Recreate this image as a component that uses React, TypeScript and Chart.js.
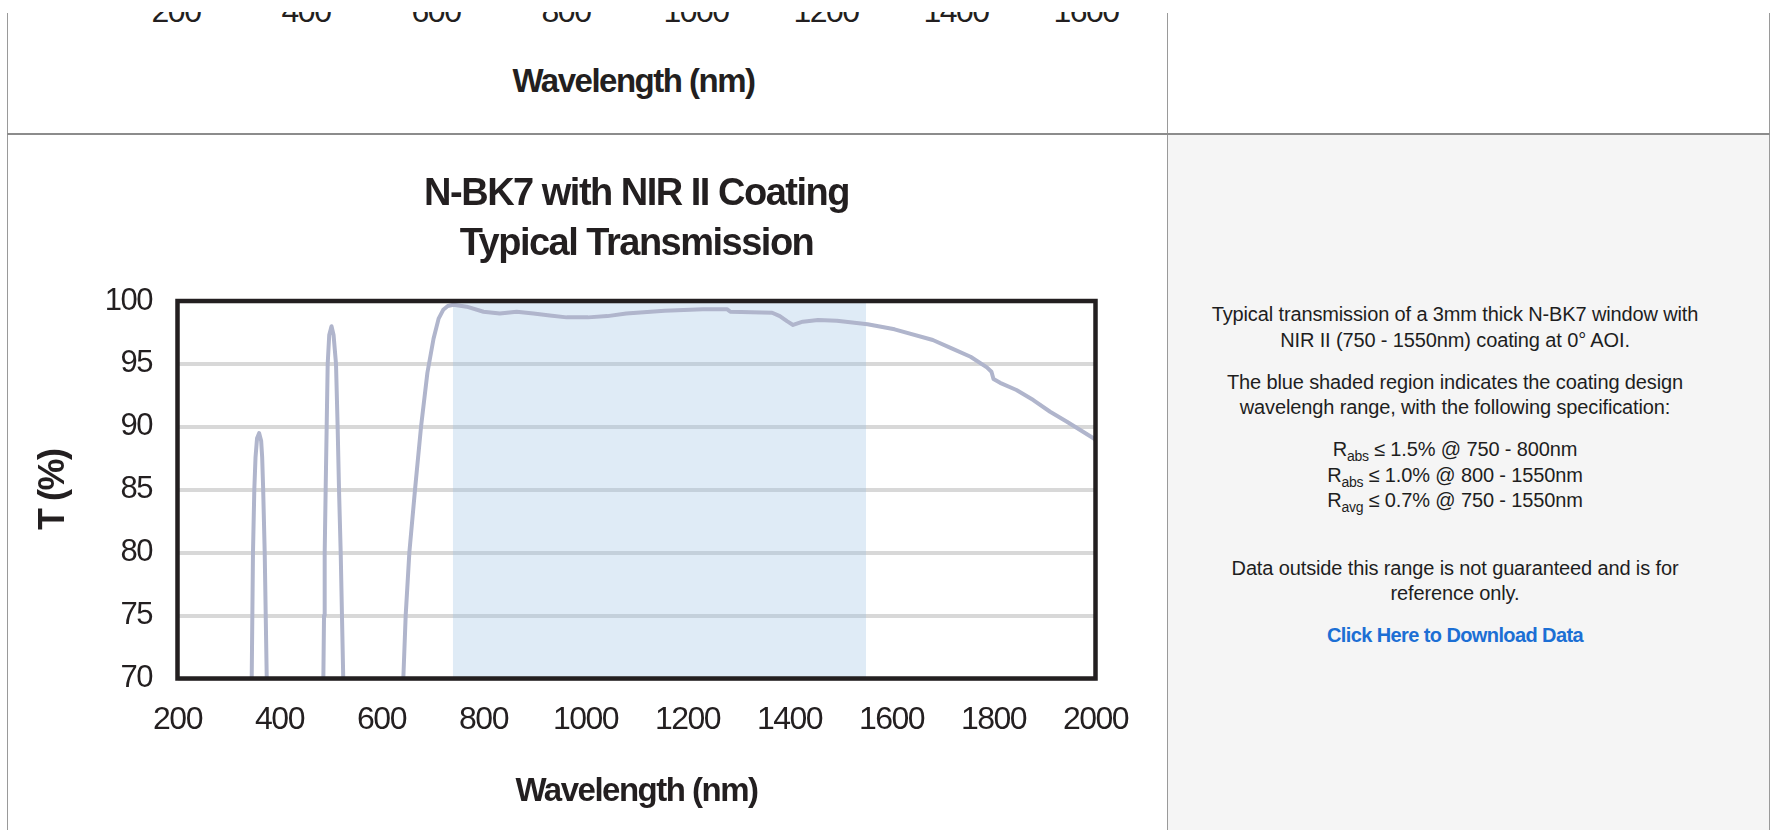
import React, { useEffect, useRef } from 'react';
import { Chart, registerables } from 'chart.js';

Chart.register(...registerables);

// ---------- chart content ----------
const TITLE_LINES = ['N-BK7 with NIR II Coating', 'Typical Transmission'];
const X_TITLE = 'Wavelength (nm)';
const Y_TITLE = 'T (%)';
const X_MIN = 200;
const X_MAX = 2000;
const X_STEP = 200;
const Y_MIN = 70;
const Y_MAX = 100;
const Y_STEP = 5;
// coating design band (shaded), nm
const BAND_NM = [740, 1550];

// measured transmission curve (values below 70 % lie outside the plot window)
const WAVELENGTH_NM = [
  200, 300, 340, 345.5, 348, 350.6, 353, 356, 360, 364, 366, 368, 371, 375,
  380, 430, 480, 486, 487.3, 488.6, 490.5, 492.5, 494.5, 497.5, 502, 506,
  510.8, 514, 516.7, 520, 522.5, 525, 530, 580, 630, 642.8, 647.4, 654.6,
  665.7, 677.5, 690, 702, 712, 721, 730, 741, 767, 800, 832, 865, 898, 930,
  963, 1005, 1043, 1080, 1155, 1230, 1278, 1284, 1366, 1381, 1395, 1407,
  1426, 1456, 1493, 1553, 1606, 1681, 1718, 1755, 1787, 1796, 1800, 1813,
  1845, 1878, 1911, 1944, 1996, 2000,
];
const TRANSMISSION_PCT = [
  0, 20, 55, 70, 80, 85, 87.6, 89.1, 89.5, 88.9, 87.6, 85, 80, 70,
  55, 35, 55, 70, 75, 80, 85, 90, 95, 97.3, 98.0, 97.3,
  95, 90, 85, 80, 75, 70, 55, 35, 55, 70, 75, 80,
  85, 90, 94.3, 97.0, 98.6, 99.3, 99.6, 99.7, 99.55, 99.15, 99.0, 99.15, 99.0, 98.85,
  98.7, 98.7, 98.8, 99.0, 99.23, 99.34, 99.34, 99.15, 99.07, 98.8, 98.4, 98.1,
  98.36, 98.49, 98.43, 98.15, 97.75, 96.9, 96.24, 95.57, 94.73, 94.38, 93.8, 93.5,
  92.93, 92.13, 91.2, 90.41, 89.09, 88.95,
];

// tick labels of the previous (cut-off) chart at the top of the page
const PREV_TICK_LABELS = ['200', '400', '600', '800', '1000', '1200', '1400', '1600'];

// ---------- right-hand description ----------
const DESC_P1 = ['Typical transmission of a 3mm thick N-BK7 window with', 'NIR II (750 - 1550nm) coating at 0° AOI.'];
const DESC_P2 = ['The blue shaded region indicates the coating design', 'wavelengh range, with the following specification:'];
const SPEC_SUB = ['abs', 'abs', 'avg'];
const SPEC_TEXT = [' ≤ 1.5% @ 750 - 800nm', ' ≤ 1.0% @ 800 - 1550nm', ' ≤ 0.7% @ 750 - 1550nm'];
const DESC_P4 = ['Data outside this range is not guaranteed and is for', 'reference only.'];
const LINK_TEXT = 'Click Here to Download Data';

// ---------- styles ----------
const CHART_FONT = '"Liberation Sans", Arial, sans-serif';
const CHART_LETTER_SPACING = '-1.5px';
const INK = '#231f20';
const CURVE_COLOR = '#b0b5cc';
const BAND_COLOR = 'rgba(150,190,225,0.30)';
const GRID_COLOR = '#d8d8d8';
const RULE = '#9a9a9a';

// geometry of the chart inside its canvas
const CANVAS_W = 1159;
const CANVAS_H = 694;
const Y_AXIS_WIDTH = 169.5;
const X_AXIS_HEIGHT = 135.1;

const framePlugin = {
  id: 'frameBox',
  afterDatasetsDraw(chart: any) {
    const { ctx, chartArea: a } = chart;
    ctx.save();
    ctx.strokeStyle = INK;
    ctx.lineWidth = 4.5;
    ctx.strokeRect(a.left, a.top, a.right - a.left, a.bottom - a.top);
    ctx.restore();
  },
};

const condensePlugin = {
  id: 'condenseText',
  beforeUpdate(chart: any) {
    chart.ctx.letterSpacing = CHART_LETTER_SPACING;
  },
  beforeLayout(chart: any) {
    chart.ctx.letterSpacing = CHART_LETTER_SPACING;
  },
  beforeDraw(chart: any) {
    chart.ctx.letterSpacing = CHART_LETTER_SPACING;
  },
};

function TransmissionChart() {
  const ref = useRef<HTMLCanvasElement | null>(null);
  useEffect(() => {
    if (!ref.current) return;
    const curve = WAVELENGTH_NM.map((x, i) => ({ x, y: TRANSMISSION_PCT[i] }));
    const band = BAND_NM.map((x) => ({ x, y: Y_MAX }));
    const chart = new Chart(ref.current, {
      type: 'line',
      data: {
        datasets: [
          {
            label: 'Transmission',
            data: curve,
            borderColor: CURVE_COLOR,
            borderWidth: 4,
            borderJoinStyle: 'round',
            borderCapStyle: 'round',
            pointRadius: 0,
            tension: 0,
            fill: false,
            order: 1,
          },
          {
            label: 'Design band',
            data: band,
            borderWidth: 0,
            borderColor: 'rgba(0,0,0,0)',
            backgroundColor: BAND_COLOR,
            pointRadius: 0,
            fill: 'start',
            order: 2,
          },
        ],
      },
      options: {
        animation: false,
        responsive: false,
        devicePixelRatio: 1,
        layout: { padding: { left: 0, right: 71.5, top: 20, bottom: 16.4 } },
        plugins: {
          legend: { display: false },
          tooltip: { enabled: false },
          title: {
            display: true,
            fullSize: false,
            text: TITLE_LINES,
            color: INK,
            font: { family: CHART_FONT, weight: 'bold', size: 38, lineHeight: 1.316 },
            padding: { top: 14, bottom: 31 },
          },
        },
        scales: {
          x: {
            type: 'linear',
            min: X_MIN,
            max: X_MAX,
            afterFit: (s: any) => {
              s.height = X_AXIS_HEIGHT;
            },
            ticks: {
              stepSize: X_STEP,
              autoSkip: false,
              maxRotation: 0,
              color: INK,
              padding: 22.8,
              font: { family: CHART_FONT, size: 32 },
              callback: (v: any) => String(v),
            },
            grid: { display: false, drawTicks: false },
            border: { display: false },
            title: {
              display: true,
              text: X_TITLE,
              color: INK,
              font: { family: CHART_FONT, weight: 'bold', size: 33, lineHeight: 1.2 },
              padding: { top: 20, bottom: 1.8 },
            },
          },
          y: {
            type: 'linear',
            min: Y_MIN,
            max: Y_MAX,
            afterFit: (s: any) => {
              s.width = Y_AXIS_WIDTH;
            },
            ticks: {
              stepSize: Y_STEP,
              color: INK,
              padding: 25.5,
              font: { family: CHART_FONT, size: 31 },
              callback: (v: any) => String(v),
            },
            grid: { color: GRID_COLOR, lineWidth: 4, drawTicks: false },
            border: { display: false },
            title: {
              display: true,
              text: Y_TITLE,
              color: INK,
              font: { family: CHART_FONT, weight: 'bold', size: 36, lineHeight: 1.2 },
              padding: { top: 24.5, bottom: 6 },
            },
          },
        },
      },
      plugins: [condensePlugin, framePlugin],
    } as any);
    return () => chart.destroy();
  }, []);
  return (
    <canvas
      ref={ref}
      width={CANVAS_W}
      height={CANVAS_H}
      style={{ position: 'absolute', left: 8, top: 136, width: CANVAS_W, height: CANVAS_H, display: 'block' }}
    />
  );
}

const PREV_FIRST_X = 176;
const PREV_STEP = 130;

export default function App() {
  const textStyle: React.CSSProperties = {
    position: 'absolute',
    left: 1168,
    top: 302,
    width: 574,
    textAlign: 'center',
    whiteSpace: 'nowrap',
    fontFamily: '"Liberation Sans", Arial, sans-serif',
    fontSize: 20,
    lineHeight: '25.5px',
    letterSpacing: '-0.13px',
    color: '#1e1e1e',
  };
  const pStyle: React.CSSProperties = { margin: '0 0 16.5px 0' };
  const subStyle: React.CSSProperties = {
    fontSize: 14,
    lineHeight: '10px',
    position: 'relative',
    top: 5,
    letterSpacing: '-0.3px',
  };
  const prevTickStyle: React.CSSProperties = {
    position: 'absolute',
    top: -17.1,
    transform: 'translateX(-50%)',
    fontFamily: CHART_FONT,
    fontSize: 32,
    lineHeight: '32px',
    letterSpacing: CHART_LETTER_SPACING,
    color: INK,
    whiteSpace: 'nowrap',
  };
  return (
    <div
      style={{
        position: 'absolute',
        left: 0,
        top: 0,
        width: 1779,
        height: 830,
        overflow: 'hidden',
        background: '#ffffff',
      }}
    >
      {/* table rules and right cell background */}
      <div style={{ position: 'absolute', left: 1168, top: 135, width: 601, height: 695, background: '#f5f5f5' }} />
      <div style={{ position: 'absolute', left: 7, top: 13, width: 1, height: 817, background: RULE }} />
      <div style={{ position: 'absolute', left: 1167, top: 13, width: 1, height: 817, background: RULE }} />
      <div style={{ position: 'absolute', left: 1769, top: 13, width: 1, height: 817, background: RULE }} />
      <div style={{ position: 'absolute', left: 7, top: 133, width: 1763, height: 2, background: '#8c8c8c' }} />

      {/* bottom of the previous chart (cut off by the viewport) */}
      <div style={{ position: 'absolute', left: 8, top: 12, width: 1159, height: 121, overflow: 'hidden' }}>
        {PREV_TICK_LABELS.map((t, i) => (
          <div key={t} style={{ ...prevTickStyle, left: PREV_FIRST_X + i * PREV_STEP - 8 }}>
            {t}
          </div>
        ))}
        <div
          style={{
            position: 'absolute',
            left: 633.5 - 8,
            top: 52.1,
            transform: 'translateX(-50%)',
            fontFamily: CHART_FONT,
            fontWeight: 'bold',
            fontSize: 33,
            lineHeight: '33px',
            letterSpacing: CHART_LETTER_SPACING,
            color: INK,
            whiteSpace: 'nowrap',
          }}
        >
          {X_TITLE}
        </div>
      </div>

      <TransmissionChart />

      {/* description */}
      <div style={textStyle}>
        <p style={pStyle}>
          {DESC_P1[0]}
          <br />
          {DESC_P1[1]}
        </p>
        <p style={pStyle}>
          {DESC_P2[0]}
          <br />
          {DESC_P2[1]}
        </p>
        <p style={pStyle}>
          {SPEC_TEXT.map((t, i) => (
            <React.Fragment key={i}>
              R<span style={subStyle}>{SPEC_SUB[i]}</span>
              {t}
              <br />
            </React.Fragment>
          ))}
          {'\u00a0'}
        </p>
        <p style={pStyle}>
          {DESC_P4[0]}
          <br />
          {DESC_P4[1]}
        </p>
        <p style={pStyle}>
          <a
            href="#"
            style={{ color: '#1c6fd4', fontWeight: 'bold', textDecoration: 'none', letterSpacing: '-0.6px' }}
          >
            {LINK_TEXT}
          </a>
        </p>
      </div>
    </div>
  );
}
